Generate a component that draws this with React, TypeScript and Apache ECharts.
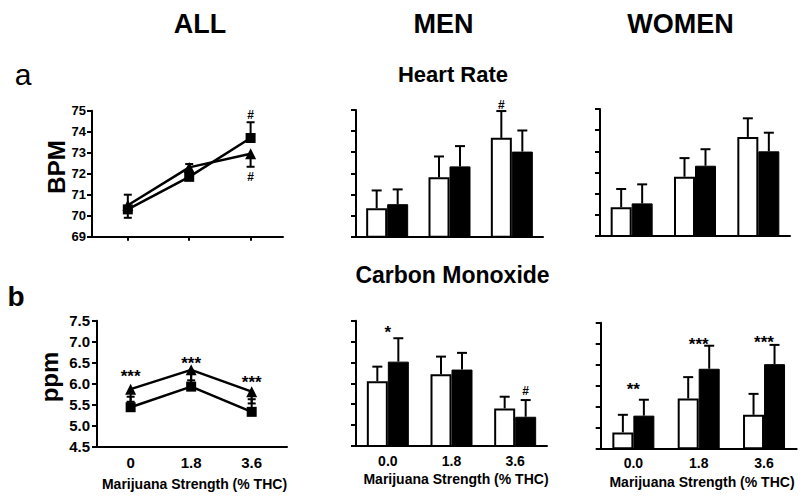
import React, { useEffect, useRef } from "react";
import * as echarts from "echarts";

const FONT = "'Liberation Sans', Arial, Helvetica, sans-serif";

// x categories / doses
const doseLabels = ["0.0", "1.8", "3.6"];
const doseValues = [0, 1.8, 3.6];
const doseTickLabels = ["0", "1.8", "3.6"];
const hrTicks = [69, 75, 1];
const coTicks = [4.5, 7.5, 0.5];

// Heart rate, ALL (line panel): square = white-bar group, triangle = black-bar group
const hrAllSquare = [70.3, 71.85, 73.7];
const hrAllSquareErr = [-0.4, -0.15, 0.75];
const hrAllTriangle = [70.5, 72.3, 72.95];
const hrAllTriangleErr = [0.5, 0.16, -0.62];

// Heart rate, MEN / WOMEN (bars)
const hrMenWhite = [70.35, 71.81, 73.68];
const hrMenWhiteErr = [0.84, 0.99, 1.27];
const hrMenBlack = [70.54, 72.33, 73.03];
const hrMenBlackErr = [0.7, 0.96, 1.0];
const hrWomenWhite = [70.36, 71.8, 73.68];
const hrWomenWhiteErr = [0.86, 0.88, 0.88];
const hrWomenBlack = [70.54, 72.32, 73.0];
const hrWomenBlackErr = [0.9, 0.78, 0.88];

// Carbon monoxide, ALL
const coAllSquare = [5.44, 5.93, 5.33];
const coAllSquareErr = [0.25, 0.3, 0.3];
const coAllTriangle = [5.87, 6.33, 5.81];
const coAllTriangleErr = [-0.3, -0.25, -0.28];

// Carbon monoxide, MEN / WOMEN
const coMenWhite = [6.05, 6.22, 5.4];
const coMenWhiteErr = [0.35, 0.42, 0.28];
const coMenBlack = [6.52, 6.33, 5.2];
const coMenBlackErr = [0.56, 0.4, 0.4];
const coWomenWhite = [4.88, 5.69, 5.3];
const coWomenWhiteErr = [0.42, 0.51, 0.5];
const coWomenBlack = [5.28, 6.4, 6.51];
const coWomenBlackErr = [0.38, 0.55, 0.46];

// significance marks: [x (dose or category), side (-1 white, 0 centre, 1 black), label y value]
const hrAllMarkText = ["#", "#"];
const hrAllMarkPos = [[3.6, 0, 74.8], [3.6, 0, 71.84]];
const hrMenMarkText = ["#"];
const hrMenMarkPos = [[2, -1, 75.24]];
const coAllMarkText = ["***", "***", "***"];
const coAllMarkPos = [[0, 0, 6.18], [1.8, 0, 6.48], [3.6, 0, 6.03]];
const coMenStarText = ["*"];
const coMenStarPos = [[0, 0, 7.22]];
const coMenHashText = ["#"];
const coMenHashPos = [[2, 1, 5.82]];
const coWomenMarkText = ["**", "***", "***"];
const coWomenMarkPos = [[0, 0, 5.91], [1, 0, 6.99], [2, 0, 7.02]];

const BAR_W = 21;

function errSeries(g: number, xs: number[], ys: number[], es: number[], offset: number, cap: number) {
  return {
    type: "custom",
    xAxisIndex: g,
    yAxisIndex: g,
    z: 2,
    silent: true,
    encode: { x: 0, y: 1 },
    data: ys.map((y, i) => [xs[i], y, es[i]]),
    renderItem: (_p: any, api: any) => {
      const x = api.value(0), y = api.value(1), e = api.value(2);
      const p0 = api.coord([x, y]);
      const p1 = api.coord([x, y + e]);
      const cx = p0[0] + offset;
      return {
        type: "group",
        children: [
          { type: "line", shape: { x1: cx, y1: p0[1], x2: cx, y2: p1[1] }, style: { stroke: "#000", lineWidth: 2 } },
          { type: "line", shape: { x1: cx - cap, y1: p1[1], x2: cx + cap, y2: p1[1] }, style: { stroke: "#000", lineWidth: 2 } },
        ],
      };
    },
  };
}

function markSeries(g: number, pos: number[][], texts: string[], size: number, weight: string) {
  return {
    type: "custom",
    xAxisIndex: g,
    yAxisIndex: g,
    z: 5,
    silent: true,
    encode: { x: 0, y: 2 },
    data: pos,
    renderItem: (params: any, api: any) => {
      const p = api.coord([api.value(0), api.value(2)]);
      return {
        type: "text",
        x: p[0] + api.value(1) * (BAR_W / 2),
        y: p[1],
        style: {
          text: texts[params.dataIndex],
          fontSize: size,
          fontWeight: weight,
          fontFamily: FONT,
          fill: "#000",
          align: "center",
          verticalAlign: "middle",
        },
      };
    },
  };
}

function barPair(g: number, white: number[], whiteErr: number[], black: number[], blackErr: number[]) {
  const idx = [0, 1, 2];
  return [
    {
      type: "bar",
      xAxisIndex: g,
      yAxisIndex: g,
      data: white,
      barWidth: BAR_W,
      barGap: "0%",
      z: 3,
      itemStyle: { color: "#fff", borderColor: "#000", borderWidth: 2 },
    },
    {
      type: "bar",
      xAxisIndex: g,
      yAxisIndex: g,
      data: black,
      barWidth: BAR_W,
      barGap: "0%",
      z: 3,
      itemStyle: { color: "#000", borderColor: "#000", borderWidth: 1 },
    },
    { ...errSeries(g, idx, white, whiteErr, -BAR_W / 2, 5), z: 4 },
    { ...errSeries(g, idx, black, blackErr, BAR_W / 2, 5), z: 4 },
  ];
}

function lineSeries(g: number, data: number[], symbol: string, size: number) {
  return {
    type: "line",
    xAxisIndex: g,
    yAxisIndex: g,
    z: 3,
    data: data.map((v, i) => [doseValues[i], v]),
    symbol,
    symbolSize: size,
    showSymbol: true,
    lineStyle: { color: "#000", width: 2.5 },
    itemStyle: { color: "#000", borderColor: "#000", borderWidth: 0 },
  };
}

const axisLine = { show: true, onZero: false, lineStyle: { color: "#000", width: 2 } };

function yAxisFor(g: number, ticks: number[], showLabels: boolean, labelSize: number, margin: number, decimals: number) {
  return {
    type: "value",
    gridIndex: g,
    min: ticks[0],
    max: ticks[1],
    interval: ticks[2],
    axisLine,
    axisTick: { show: true, length: 5, lineStyle: { color: "#000", width: 2 } },
    splitLine: { show: false },
    axisLabel: {
      show: showLabels,
      margin,
      color: "#000",
      fontSize: labelSize,
      fontWeight: "bold",
      fontFamily: FONT,
      formatter: (v: number) => v.toFixed(decimals),
    },
  };
}

function catAxis(g: number, showLabels: boolean) {
  return {
    type: "category",
    gridIndex: g,
    data: doseLabels,
    boundaryGap: true,
    axisLine,
    axisTick: { show: false },
    splitLine: { show: false },
    axisLabel: {
      show: showLabels,
      margin: 8,
      color: "#000",
      fontSize: 14,
      fontWeight: "bold",
      fontFamily: FONT,
    },
  };
}

function txt(text: string, x: number, y: number, size: number, weight: string, rotation = 0) {
  return {
    type: "text",
    x,
    y,
    rotation,
    silent: true,
    style: {
      text,
      fontSize: size,
      fontWeight: weight,
      fontFamily: FONT,
      fill: "#000",
      align: "center",
      verticalAlign: "middle",
    },
  };
}

export default function App() {
  const ref = useRef<HTMLDivElement>(null);
  useEffect(() => {
    if (!ref.current) return;
    const chart = echarts.init(ref.current, undefined, { renderer: "svg" });
    const option: any = {
      animation: false,
      backgroundColor: "#fff",
      grid: [
        { left: 92, top: 110.7, width: 191, height: 126 },
        { left: 356, top: 110, width: 187, height: 126.7 },
        { left: 600, top: 109, width: 190, height: 127 },
        { left: 97, top: 320.7, width: 190, height: 126 },
        { left: 356, top: 320.7, width: 191, height: 125.3 },
        { left: 600.7, top: 322.7, width: 196, height: 125.6 },
      ],
      xAxis: [
        {
          type: "value",
          gridIndex: 0,
          min: -1.05,
          max: 4.55,
          axisLine,
          splitLine: { show: false },
          axisTick: { show: true, customValues: doseValues, length: 4, lineStyle: { color: "#000", width: 2 } },
          axisLabel: { show: false },
        },
        catAxis(1, false),
        catAxis(2, false),
        {
          type: "value",
          gridIndex: 3,
          min: -1.0,
          max: 4.65,
          axisLine,
          splitLine: { show: false },
          axisTick: { show: false },
          axisLabel: {
            show: true,
            customValues: doseValues,
            margin: 8,
            color: "#000",
            fontSize: 15,
            fontWeight: "bold",
            fontFamily: FONT,
            formatter: (v: number) => {
              const i = doseValues.findIndex((d) => Math.abs(d - v) < 1e-6);
              return i >= 0 ? doseTickLabels[i] : "";
            },
          },
        },
        catAxis(4, true),
        catAxis(5, true),
      ],
      yAxis: [
        yAxisFor(0, hrTicks, true, 13, 6, 0),
        yAxisFor(1, hrTicks, false, 13, 6, 0),
        yAxisFor(2, hrTicks, false, 13, 6, 0),
        yAxisFor(3, coTicks, true, 15, 7, 1),
        yAxisFor(4, coTicks, false, 15, 7, 1),
        yAxisFor(5, coTicks, false, 15, 7, 1),
      ],
      series: [
        errSeries(0, doseValues, hrAllSquare, hrAllSquareErr, 0, 4),
        errSeries(0, doseValues, hrAllTriangle, hrAllTriangleErr, 0, 4),
        lineSeries(0, hrAllSquare, "rect", 10),
        lineSeries(0, hrAllTriangle, "triangle", 11),
        markSeries(0, hrAllMarkPos, hrAllMarkText, 12, "bold"),
        ...barPair(1, hrMenWhite, hrMenWhiteErr, hrMenBlack, hrMenBlackErr),
        markSeries(1, hrMenMarkPos, hrMenMarkText, 12, "bold"),
        ...barPair(2, hrWomenWhite, hrWomenWhiteErr, hrWomenBlack, hrWomenBlackErr),
        errSeries(3, doseValues, coAllSquare, coAllSquareErr, 0, 4),
        errSeries(3, doseValues, coAllTriangle, coAllTriangleErr, 0, 4),
        lineSeries(3, coAllSquare, "rect", 10),
        lineSeries(3, coAllTriangle, "triangle", 11),
        markSeries(3, coAllMarkPos, coAllMarkText, 17, "bold"),
        ...barPair(4, coMenWhite, coMenWhiteErr, coMenBlack, coMenBlackErr),
        markSeries(4, coMenStarPos, coMenStarText, 17, "bold"),
        markSeries(4, coMenHashPos, coMenHashText, 12, "bold"),
        ...barPair(5, coWomenWhite, coWomenWhiteErr, coWomenBlack, coWomenBlackErr),
        markSeries(5, coWomenMarkPos, coWomenMarkText, 17, "bold"),
      ],
      graphic: [
        txt("ALL", 200, 23.6, 27, "bold"),
        txt("MEN", 443.5, 23.6, 27, "bold"),
        txt("WOMEN", 680.5, 23.6, 27, "bold"),
        txt("a", 23, 74.5, 30, "normal"),
        txt("b", 16, 296, 28, "bold"),
        txt("Heart Rate", 453, 74.3, 22, "bold"),
        txt("Carbon Monoxide", 452.5, 275, 23, "bold"),
        txt("BPM", 56.6, 167, 24, "bold", Math.PI / 2),
        txt("ppm", 49.1, 377, 24, "bold", Math.PI / 2),
        txt("Marijuana Strength (% THC)", 194.5, 483.6, 14, "bold"),
        txt("Marijuana Strength (% THC)", 456, 479, 14, "bold"),
        txt("Marijuana Strength (% THC)", 702, 482, 14, "bold"),
      ],
    };
    chart.setOption(option);
    return () => chart.dispose();
  }, []);
  return (
    <div
      ref={ref}
      style={{ position: "absolute", left: 0, top: 0, width: 800, height: 501, background: "#fff" }}
    />
  );
}
